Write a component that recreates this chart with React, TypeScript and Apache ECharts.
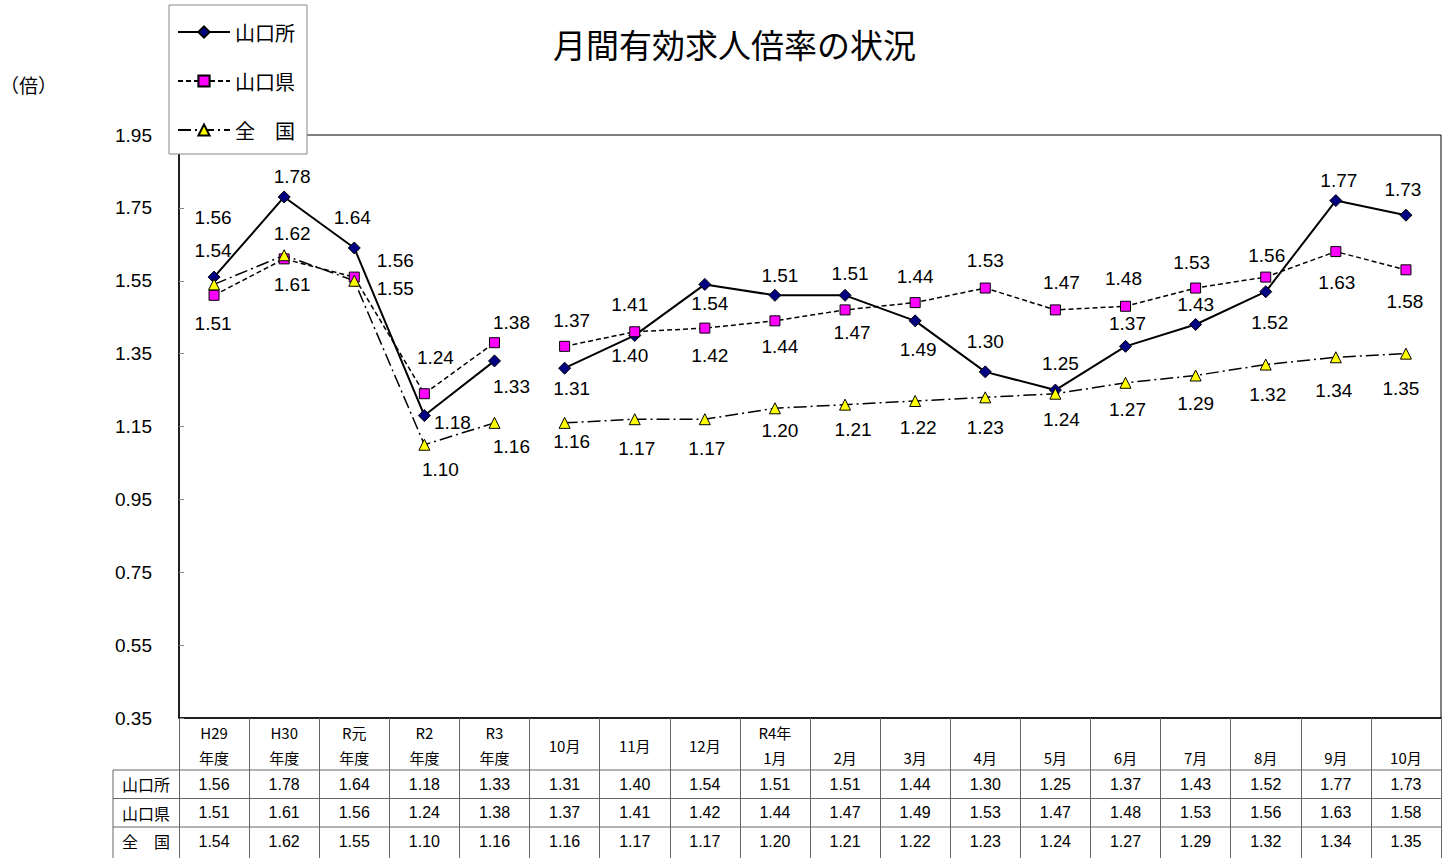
import React, { useEffect, useRef } from 'react';
import * as echarts from 'echarts';

// ---------- data ----------
const categories = [
  'H29年度', 'H30年度', 'R元年度', 'R2年度', 'R3年度',
  'R3年10月', 'R3年11月', 'R3年12月', 'R4年1月', 'R4年2月', 'R4年3月',
  'R4年4月', 'R4年5月', 'R4年6月', 'R4年7月', 'R4年8月', 'R4年9月', 'R4年10月',
];
// header cell text: top line / bottom line ('' = none); kind 'c' = single centred line
const headerTop = ['H29', 'H30', 'R元', 'R2', 'R3', '', '', '', 'R4年', '', '', '', '', '', '', '', '', ''];
const headerBottom = ['年度', '年度', '年度', '年度', '年度', '10月', '11月', '12月', '1月', '2月', '3月', '4月', '5月', '6月', '7月', '8月', '9月', '10月'];
const headerKind = ['t', 't', 't', 't', 't', 'c', 'c', 'c', 't', 't', 't', 't', 't', 't', 't', 't', 't', 't'];

const seriesNames = ['山口所', '山口県', '全　国'];
const yamaguchiSho = [1.56, 1.78, 1.64, 1.18, 1.33, 1.31, 1.40, 1.54, 1.51, 1.51, 1.44, 1.30, 1.25, 1.37, 1.43, 1.52, 1.77, 1.73];
const yamaguchiKen = [1.51, 1.61, 1.56, 1.24, 1.38, 1.37, 1.41, 1.42, 1.44, 1.47, 1.49, 1.53, 1.47, 1.48, 1.53, 1.56, 1.63, 1.58];
const zenkoku = [1.54, 1.62, 1.55, 1.10, 1.16, 1.16, 1.17, 1.17, 1.20, 1.21, 1.22, 1.23, 1.24, 1.27, 1.29, 1.32, 1.34, 1.35];
const seriesValues = [yamaguchiSho, yamaguchiKen, zenkoku];
const annualCount = 5; // first 5 categories are fiscal years (line broken after them)

const Y_MIN = 0.35;
const Y_MAX = 1.95;
const Y_STEP = 0.2;

// ---------- label placement (offsets from the marker, px) ----------
const labelDx = [
  [-1, 8, -2, 28, 17, 7, -5, 5, 5, 5, 0, 0, 5, 2, 0, 4, 3, -3],
  [-1, 8, 41, 11, 17, 7, -5, 5, 5, 7, 3, 0, 6, -2, -4, 1, 1, -1],
  [-1, 8, 41, 16, 17, 7, 2, 2, 5, 8, 3, 0, 6, 2, 0, 2, -2, -5],
];
const labelDy = [
  [-60, -20, -30, 7, 26, 20, 20, 19, -20, -22, -44, -30, -27, -23, -20, 31, -20, -26],
  [28, 26, -17, -36, -20, -26, -27, 27, 26, 23, 47, -28, -27, -28, -26, -22, 31, 32],
  [-34, -22, 8, 25, 24, 19, 29, 29, 22, 25, 27, 30, 26, 27, 28, 30, 33, 35],
];

// ---------- styles ----------
const NUM_FONT = "'Liberation Sans', 'Noto Sans CJK JP', sans-serif";
const JP_FONT = "'Noto Sans CJK JP', 'Liberation Sans', sans-serif";

const GRID_LEFT = 179;
const GRID_RIGHT = 7;
const GRID_TOP = 135;
const GRID_BOTTOM = 140;
const W = 1448;
const H = 858;
const PLOT_RIGHT = W - GRID_RIGHT;
const PLOT_BOTTOM = H - GRID_BOTTOM;
const HEADER_H = 52;
const ROW_H = 28.5;
const TABLE_LEFT = 113;

const seriesStyles = [
  { symbol: 'diamond', symbolSize: 12, fill: '#000080', line: { color: '#000', width: 2, type: 'solid' as any } },
  { symbol: 'rect', symbolSize: 10, fill: '#FF00FF', line: { color: '#000', width: 1.5, type: [5, 3] as any } },
  { symbol: 'triangle', symbolSize: 11, fill: '#FFFF00', line: { color: '#000', width: 1.5, type: [13, 4, 2, 4] as any } },
];

function buildSeries() {
  const out: any[] = [];
  seriesValues.forEach((vals, k) => {
    const st = seriesStyles[k];
    ['annual', 'monthly'].forEach((part) => {
      out.push({
        type: 'line',
        name: seriesNames[k],
        yAxisIndex: 1,
        symbol: st.symbol,
        symbolSize: st.symbolSize,
        showAllSymbol: true,
        connectNulls: false,
        lineStyle: st.line,
        itemStyle: { color: st.fill, borderColor: '#000', borderWidth: 1 },
        emphasis: { disabled: true },
        label: {
          show: true,
          position: 'inside',
          color: '#000',
          fontSize: 19,
          fontFamily: NUM_FONT,
          textBorderWidth: 0,
          align: 'center',
          verticalAlign: 'middle',
          formatter: (p: any) => Number(p.value).toFixed(2),
        },
        data: vals.map((v, i) => {
          const inPart = part === 'annual' ? i < annualCount : i >= annualCount;
          if (!inPart) return '-';
          return { value: v, label: { offset: [labelDx[k][i], labelDy[k][i]] } };
        }),
      });
    });
  });
  return out;
}

export default function App() {
  const ref = useRef<HTMLDivElement>(null);

  useEffect(() => {
    if (!ref.current) return;
    const chart = echarts.init(ref.current, undefined, { renderer: 'svg' });

    const tableLines: any[] = [];
    for (let r = 0; r < seriesNames.length; r++) {
      const y = PLOT_BOTTOM + HEADER_H + ROW_H * r;
      tableLines.push({
        type: 'line',
        shape: { x1: TABLE_LEFT, y1: y, x2: PLOT_RIGHT, y2: y },
        style: { stroke: '#666', lineWidth: 1 },
        silent: true,
      });
    }
    tableLines.push({
      type: 'line',
      shape: { x1: TABLE_LEFT, y1: PLOT_BOTTOM + HEADER_H, x2: TABLE_LEFT, y2: H },
      style: { stroke: '#666', lineWidth: 1 },
      silent: true,
    });
    const rowHeaders = seriesNames.map((n, r) => ({
      type: 'text',
      x: (TABLE_LEFT + GRID_LEFT) / 2,
      y: PLOT_BOTTOM + HEADER_H + ROW_H * (r + 0.5),
      style: {
        text: n,
        fontSize: 16,
        fill: '#000',
        align: 'center',
        verticalAlign: 'middle',
        fontFamily: JP_FONT,
      },
      silent: true,
    }));

    chart.setOption({
      animation: false,
      backgroundColor: '#fff',
      title: [
        {
          text: '月間有効求人倍率の状況',
          left: 553,
          top: 27,
          padding: 0,
          textStyle: { fontSize: 33, fontWeight: 'normal', color: '#000', fontFamily: JP_FONT },
        },
        {
          text: '（倍）',
          left: 0,
          top: 75,
          padding: 0,
          textStyle: { fontSize: 19, fontWeight: 'normal', color: '#000', fontFamily: JP_FONT },
        },
      ],
      legend: {
        orient: 'vertical',
        left: 169,
        top: 5,
        data: seriesNames,
        itemWidth: 52,
        itemHeight: 14,
        itemGap: 29,
        padding: [17, 12, 14, 8],
        backgroundColor: '#fff',
        borderColor: '#888',
        borderWidth: 1,
        selectedMode: false,
        textStyle: { fontSize: 20, color: '#000', fontFamily: JP_FONT },
        z: 10,
      },
      grid: {
        left: GRID_LEFT,
        right: GRID_RIGHT,
        top: GRID_TOP,
        bottom: GRID_BOTTOM,
        show: true,
        borderColor: '#000',
        borderWidth: 1,
        backgroundColor: 'transparent',
      },
      xAxis: {
        type: 'category',
        data: categories,
        boundaryGap: true,
        axisLine: { lineStyle: { color: '#000', width: 1.5 } },
        axisTick: {
          show: true,
          interval: 0,
          inside: false,
          alignWithLabel: false,
          length: GRID_BOTTOM,
          lineStyle: { color: '#666', width: 1 },
        },
        axisLabel: {
          interval: 0,
          margin: 2,
          color: '#000',
          formatter: (_v: string, i: number) => {
            const head =
              headerKind[i] === 'c'
                ? `{c|${headerBottom[i]}}`
                : `{h|${headerTop[i] || ' '}}\n{h|${headerBottom[i]}}`;
            return head + '\n' + seriesValues.map((arr) => `{v|${arr[i].toFixed(2)}}`).join('\n');
          },
          rich: {
            h: { fontSize: 15, lineHeight: 25, fontFamily: JP_FONT, color: '#000' },
            c: { fontSize: 15, lineHeight: 50, fontFamily: JP_FONT, color: '#000' },
            v: { fontSize: 16, lineHeight: ROW_H, fontFamily: NUM_FONT, color: '#000' },
          },
        },
        splitLine: { show: false },
      },
      yAxis: [
        {
          // display axis (ticks every 0.2 starting at 0.35)
          type: 'value',
          position: 'left',
          min: 0,
          max: Y_MAX - Y_MIN,
          interval: Y_STEP,
          axisLine: { show: true, lineStyle: { color: '#000', width: 1.5 } },
          axisTick: { show: true, inside: true, length: 5, lineStyle: { color: '#888' } },
          splitLine: { show: false },
          axisLabel: {
            margin: 27,
            fontSize: 19,
            color: '#000',
            fontFamily: NUM_FONT,
            formatter: (v: number) => (v + Y_MIN).toFixed(2),
          },
        },
        {
          // data axis
          type: 'value',
          position: 'left',
          min: Y_MIN,
          max: Y_MAX,
          show: false,
          splitLine: { show: false },
        },
      ],
      graphic: [...tableLines, ...rowHeaders],
      series: buildSeries(),
    });

    return () => chart.dispose();
  }, []);

  return (
    <div
      ref={ref}
      style={{ position: 'fixed', left: 0, top: 0, width: W, height: H, background: '#fff' }}
    />
  );
}
